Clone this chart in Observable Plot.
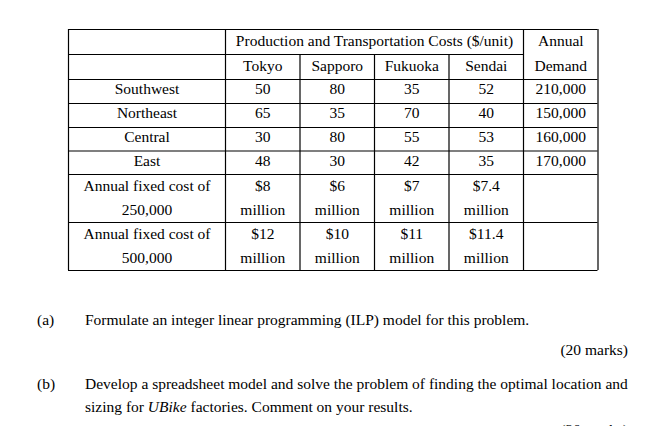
<!DOCTYPE html>
<html>
<head>
<meta charset="utf-8">
<script src="https://cdn.jsdelivr.net/npm/d3@7"></script>
<script src="https://cdn.jsdelivr.net/npm/@observablehq/plot@0.6"></script>
<style>
  html, body { margin: 0; padding: 0; background: #fff; width: 645px; height: 426px; overflow: hidden; }
  body { position: relative; font-family: "Liberation Serif", "Times New Roman", serif; font-size: 15.5px; color: #000; }
  #chart { position: absolute; left: 0; top: 0; }
  .q { position: absolute; white-space: nowrap; line-height: 20px; }
</style>
</head>
<body>
<div id="chart"></div>
<div class="q" style="left:37px; top:310px;">(a)</div>
<div class="q" style="left:85px; top:310px;">Formulate an integer linear programming (ILP) model for this problem.</div>
<div class="q" style="right:17px; top:340px;">(20 marks)</div>
<div class="q" style="left:37px; top:374px;">(b)</div>
<div class="q" style="left:85px; top:374px;">Develop a spreadsheet model and solve the problem of finding the optimal location and</div>
<div class="q" style="left:85px; top:397px;">sizing for <i>UBike</i> factories. Comment on your results.</div>
<div class="q" style="right:17px; top:420px;">(20 marks)</div>
<script>
// ---- data ----
const regions = ["Southwest", "Northeast", "Central", "East"];
const plants = ["Tokyo", "Sapporo", "Fukuoka", "Sendai"];
const southwestCosts = [50, 80, 35, 52];
const northeastCosts = [65, 35, 70, 40];
const centralCosts = [30, 80, 55, 53];
const eastCosts = [48, 30, 42, 35];
const annualDemand = [210000, 150000, 160000, 170000];
const capacities = [250000, 500000];
const fixedCost250k = [8, 6, 7, 7.4];   // $ million
const fixedCost500k = [12, 10, 11, 11.4]; // $ million
const headerCost = "Production and Transportation Costs ($/unit)";
const headerDemand = ["Annual", "Demand"];

// ---- layout ----
const tLeft = 68, labelW = 157, colW = 74.5;
const tTop = 29;
const rowH = [25, 25, 24, 24, 23.5, 23.5, 48, 48];
const colEdges = [tLeft, tLeft + labelW];
for (let i = 0; i < 5; i++) colEdges.push(tLeft + labelW + colW * (i + 1));
const rowEdges = [tTop];
rowH.forEach(h => rowEdges.push(rowEdges[rowEdges.length - 1] + h));
const cx = c => (colEdges[c] + colEdges[c + 1]) / 2;
const cy = r => (rowEdges[r] + rowEdges[r + 1]) / 2;
const tRight = colEdges[6];

const costRows = [southwestCosts, northeastCosts, centralCosts, eastCosts];
const costCells = costRows.flatMap((row, r) => row.map((v, c) => ({r, c, v})));
const fmt = d3.format(",");

// grid lines
const hLines = rowEdges.map((y, i) => ({y, x1: tLeft, x2: i === 1 ? colEdges[5] : tRight}));
const vLines = colEdges.map((x, i) => ({x, y1: (i >= 2 && i <= 4) ? rowEdges[1] : tTop, y2: rowEdges[rowEdges.length - 1]}));

const fixedRows = [fixedCost250k, fixedCost500k];
const fixedCells = fixedRows.flatMap((row, r) => row.map((v, c) => ({r, c, v})));

const dyBody = -2;
const txt = {fill: "black", fontSize: 15.5, fontFamily: "Liberation Serif"};

const chart = Plot.plot({
  width: 645,
  height: 290,
  margin: 0,
  x: {type: "identity", axis: null},
  y: {type: "identity", axis: null},
  style: {background: "white", fontFamily: "Liberation Serif", fontSize: "15.5px", color: "black"},
  marks: [
    Plot.ruleY(hLines, {y: "y", x1: "x1", x2: "x2", stroke: "black", strokeWidth: 1.2}),
    Plot.ruleX(vLines, {x: "x", y1: "y1", y2: "y2", stroke: "black", strokeWidth: 1.2}),
    Plot.text([headerCost], {x: (colEdges[1] + colEdges[5]) / 2, y: cy(0) - 1, text: d => d, ...txt}),
    Plot.text(headerDemand, {x: cx(5), y: (d, i) => cy(i) - 1, text: d => d, ...txt}),
    Plot.text(plants, {x: (d, i) => cx(i + 1), y: cy(1) - 1, text: d => d, ...txt}),
    Plot.text(regions, {x: cx(0), y: (d, i) => cy(i + 2) + dyBody, text: d => d, ...txt}),
    Plot.text(costCells, {x: d => cx(d.c + 1), y: d => cy(d.r + 2) + dyBody, text: d => String(d.v), ...txt}),
    Plot.text(annualDemand, {x: cx(5), y: (d, i) => cy(i + 2) + dyBody, text: d => fmt(d), ...txt}),
    Plot.text(capacities, {x: cx(0), y: (d, i) => cy(i + 6) - 3, text: d => "Annual fixed cost of\n" + fmt(d), lineHeight: 1.55, ...txt}),
    Plot.text(fixedCells, {x: d => cx(d.c + 1), y: d => cy(d.r + 6) - 3, text: d => "$" + d.v + "\nmillion", lineHeight: 1.55, ...txt})
  ]
});
document.getElementById("chart").appendChild(chart);
</script>
</body>
</html>
